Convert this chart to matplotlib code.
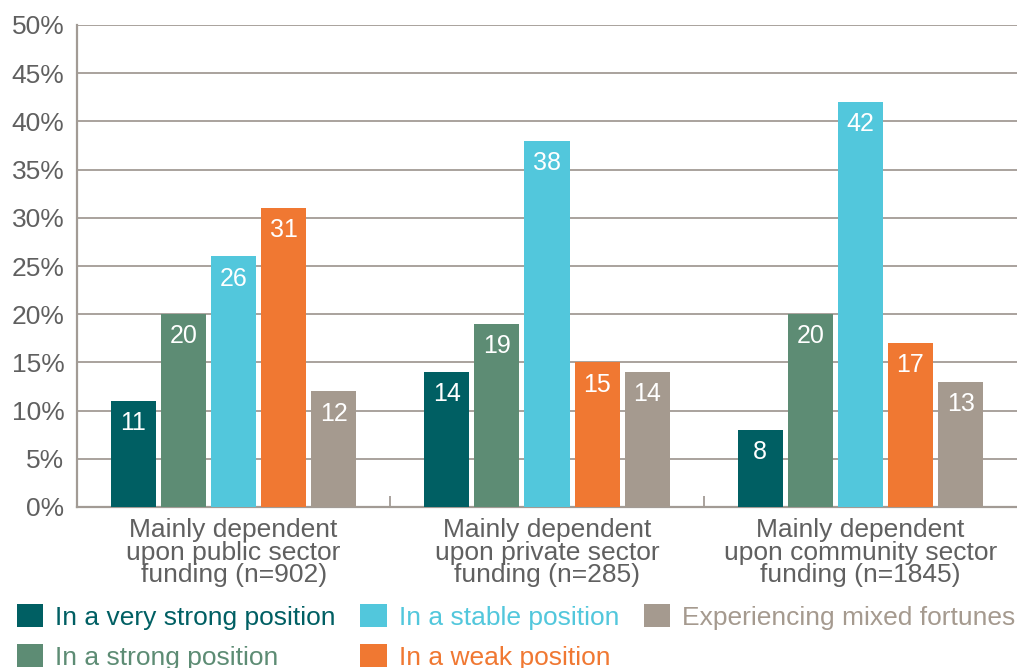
import matplotlib
matplotlib.use("Agg")
import matplotlib.pyplot as plt
from matplotlib.patches import Patch
import numpy as np

plt.rcParams['font.family'] = ['Liberation Sans', 'DejaVu Sans']

categories = ["Mainly dependent\nupon public sector\nfunding (n=902)",
              "Mainly dependent\nupon private sector\nfunding (n=285)",
              "Mainly dependent\nupon community sector\nfunding (n=1845)"]
series_names = ["In a very strong position", "In a strong position",
                "In a stable position", "In a weak position",
                "Experiencing mixed fortunes"]
very_strong = [11, 14, 8]
strong = [20, 19, 20]
stable = [26, 38, 42]
weak = [31, 15, 17]
mixed = [12, 14, 13]
series_values = [very_strong, strong, stable, weak, mixed]
colors = ["#005f63", "#5d8c74", "#52c7dc", "#f07832", "#a59a8f"]
yticks = [0, 5, 10, 15, 20, 25, 30, 35, 40, 45, 50]

fig = plt.figure(figsize=(10.17, 6.68), dpi=100)
ax = fig.add_axes([77/1017, 1-507/668, 1-77/1017, (507-25)/668])

x = np.arange(len(categories))
step = 0.16
width = 0.144
grid_c = "#a29b95"
for i, (vals, c) in enumerate(zip(series_values, colors)):
    bars = ax.bar(x + (i-2)*step, vals, width=width, color=c, zorder=3)
    for b, v in zip(bars, vals):
        ax.annotate(str(v), (b.get_x()+b.get_width()/2, v), xytext=(0, -16),
                    textcoords="offset points", ha="center", va="center",
                    color="white", fontsize=18, zorder=4)

ax.set_xlim(-0.5, 2.5)
ax.set_ylim(0, 50)
ax.set_yticks(yticks)
ax.set_yticklabels([f"{t}%" for t in yticks], fontsize=19, color="#606060")
ax.yaxis.grid(True, color=grid_c, linewidth=1.3, zorder=0)
ax.tick_params(axis="y", length=0, pad=9)
ax.set_xticks(x)
ax.set_xticklabels(categories, fontsize=19, color="#606060", linespacing=0.92)
ax.set_xticks([0.5, 1.5], minor=True)
ax.tick_params(axis="x", which="major", length=0, pad=8)
ax.tick_params(axis="x", which="minor", length=8, direction="in", color=grid_c, width=1.3)
for s in ["top", "right"]:
    ax.spines[s].set_visible(False)
for s in ["left", "bottom"]:
    ax.spines[s].set_color(grid_c)
    ax.spines[s].set_linewidth(1.6)

handles = [Patch(facecolor=c) for c in colors]
fig.legend(handles, series_names, loc="lower left", bbox_to_anchor=(6/1017, -12.5/668),
           ncol=3, frameon=False, fontsize=19, labelcolor=colors,
           handlelength=1.0, handleheight=0.95, handletextpad=0.45,
           columnspacing=0.95, labelspacing=0.56, borderaxespad=0)

fig.savefig("out.png", dpi=100)
